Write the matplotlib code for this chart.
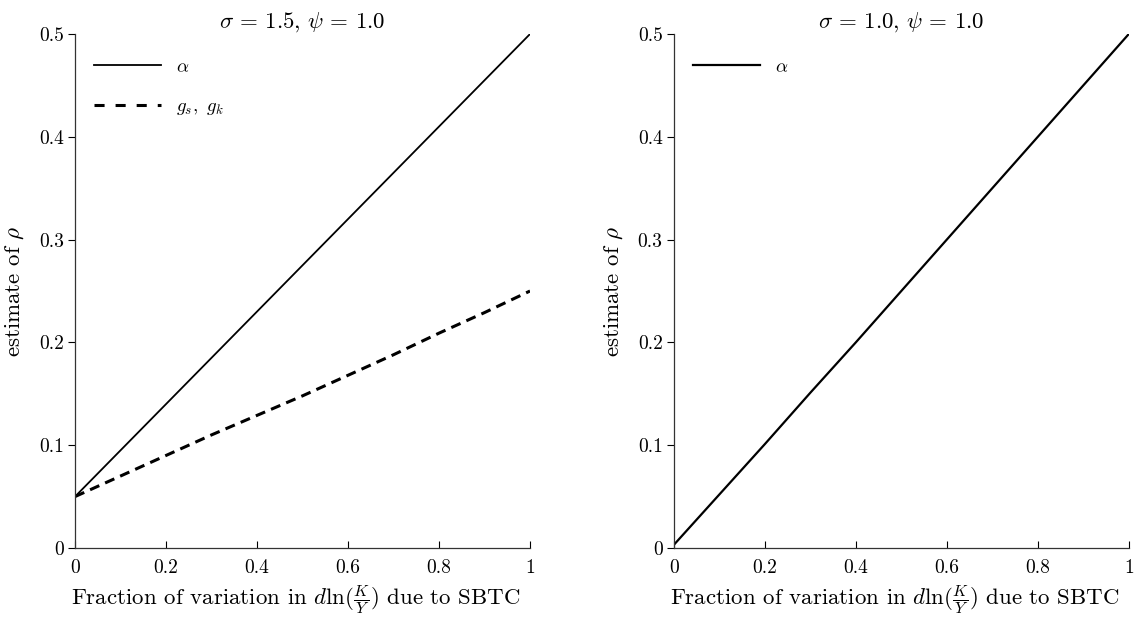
import matplotlib
matplotlib.use('Agg')
import matplotlib.pyplot as plt

plt.rcParams['font.family'] = 'serif'
plt.rcParams['font.serif'] = ['cmr10', 'DejaVu Serif']
plt.rcParams['mathtext.fontset'] = 'cm'
plt.rcParams['axes.unicode_minus'] = False

frac = [0.0, 0.1, 0.2, 0.3, 0.4, 0.5, 0.6, 0.7, 0.8, 0.9, 1.0]
alpha_left = [0.05, 0.095, 0.14, 0.185, 0.23, 0.275, 0.32, 0.365, 0.41, 0.455, 0.50]
gsgk_left = [0.05, 0.070, 0.090, 0.110, 0.129, 0.148, 0.168, 0.188, 0.209, 0.229, 0.25]
alpha_right = [0.003, 0.052, 0.101, 0.151, 0.200, 0.250, 0.300, 0.350, 0.400, 0.450, 0.50]

titles = [r'$\sigma\,=\,1.5,\,\psi\,=\,1.0$', r'$\sigma\,=\,1.0,\,\psi\,=\,1.0$']
xticks = [0, 0.2, 0.4, 0.6, 0.8, 1]
xticklabels = ['0', '0.2', '0.4', '0.6', '0.8', '1']
yticks = [0, 0.1, 0.2, 0.3, 0.4, 0.5]
yticklabels = ['0', '0.1', '0.2', '0.3', '0.4', '0.5']
xlabel = r'Fraction of variation in $d\ln(\frac{K}{Y})$ due to SBTC'
ylabel = r'estimate of $\rho$'

fig = plt.figure(figsize=(11.44, 6.21), dpi=100)
ax1 = fig.add_axes([0.0656, 0.1176, 0.3977, 0.8276])
ax2 = fig.add_axes([0.589, 0.1176, 0.3977, 0.8276])


def style_axis(ax, title):
    ax.set_xlim(0, 1)
    ax.set_ylim(0, 0.5)
    ax.spines['top'].set_visible(False)
    ax.spines['right'].set_visible(False)
    for s in ('left', 'bottom'):
        ax.spines[s].set_linewidth(0.9)
        ax.spines[s].set_color('#333333')
    ax.set_xticks(xticks)
    ax.set_xticklabels(xticklabels)
    ax.set_yticks(yticks)
    ax.set_yticklabels(yticklabels)
    ax.tick_params(axis='x', direction='in', length=5, labelsize=14, pad=8)
    ax.tick_params(axis='y', direction='out', length=5, labelsize=14, pad=3)
    ax.set_xlabel(xlabel, fontsize=16.5, labelpad=1)
    ax.xaxis.set_label_coords(0.485, -0.07)
    ax.set_ylabel(ylabel, fontsize=16.5, labelpad=9)
    ax.set_title(title, fontsize=16.5, pad=3)


ax1.plot(frac, alpha_left, color='black', lw=1.3, label=r'$\alpha$')
ax1.plot(frac, gsgk_left, color='black', lw=2.2, dashes=(3.3, 2.1), label=r'$g_s,\ g_k$')
style_axis(ax1, titles[0])
leg = ax1.legend(loc='upper left', frameon=False, fontsize=13.5, handlelength=3.6,
                 labelspacing=1.15, bbox_to_anchor=(0.0, 0.99), borderaxespad=0.6)
leg.get_lines()[1].set_dashes((3.3, 3.6))

ax2.plot(frac, alpha_right, color='black', lw=1.6, label=r'$\alpha$')
style_axis(ax2, titles[1])
ax2.legend(loc='upper left', frameon=False, fontsize=13.5, handlelength=3.6,
           bbox_to_anchor=(0.0, 0.99), borderaxespad=0.6)

fig.savefig('out.png', dpi=100)
